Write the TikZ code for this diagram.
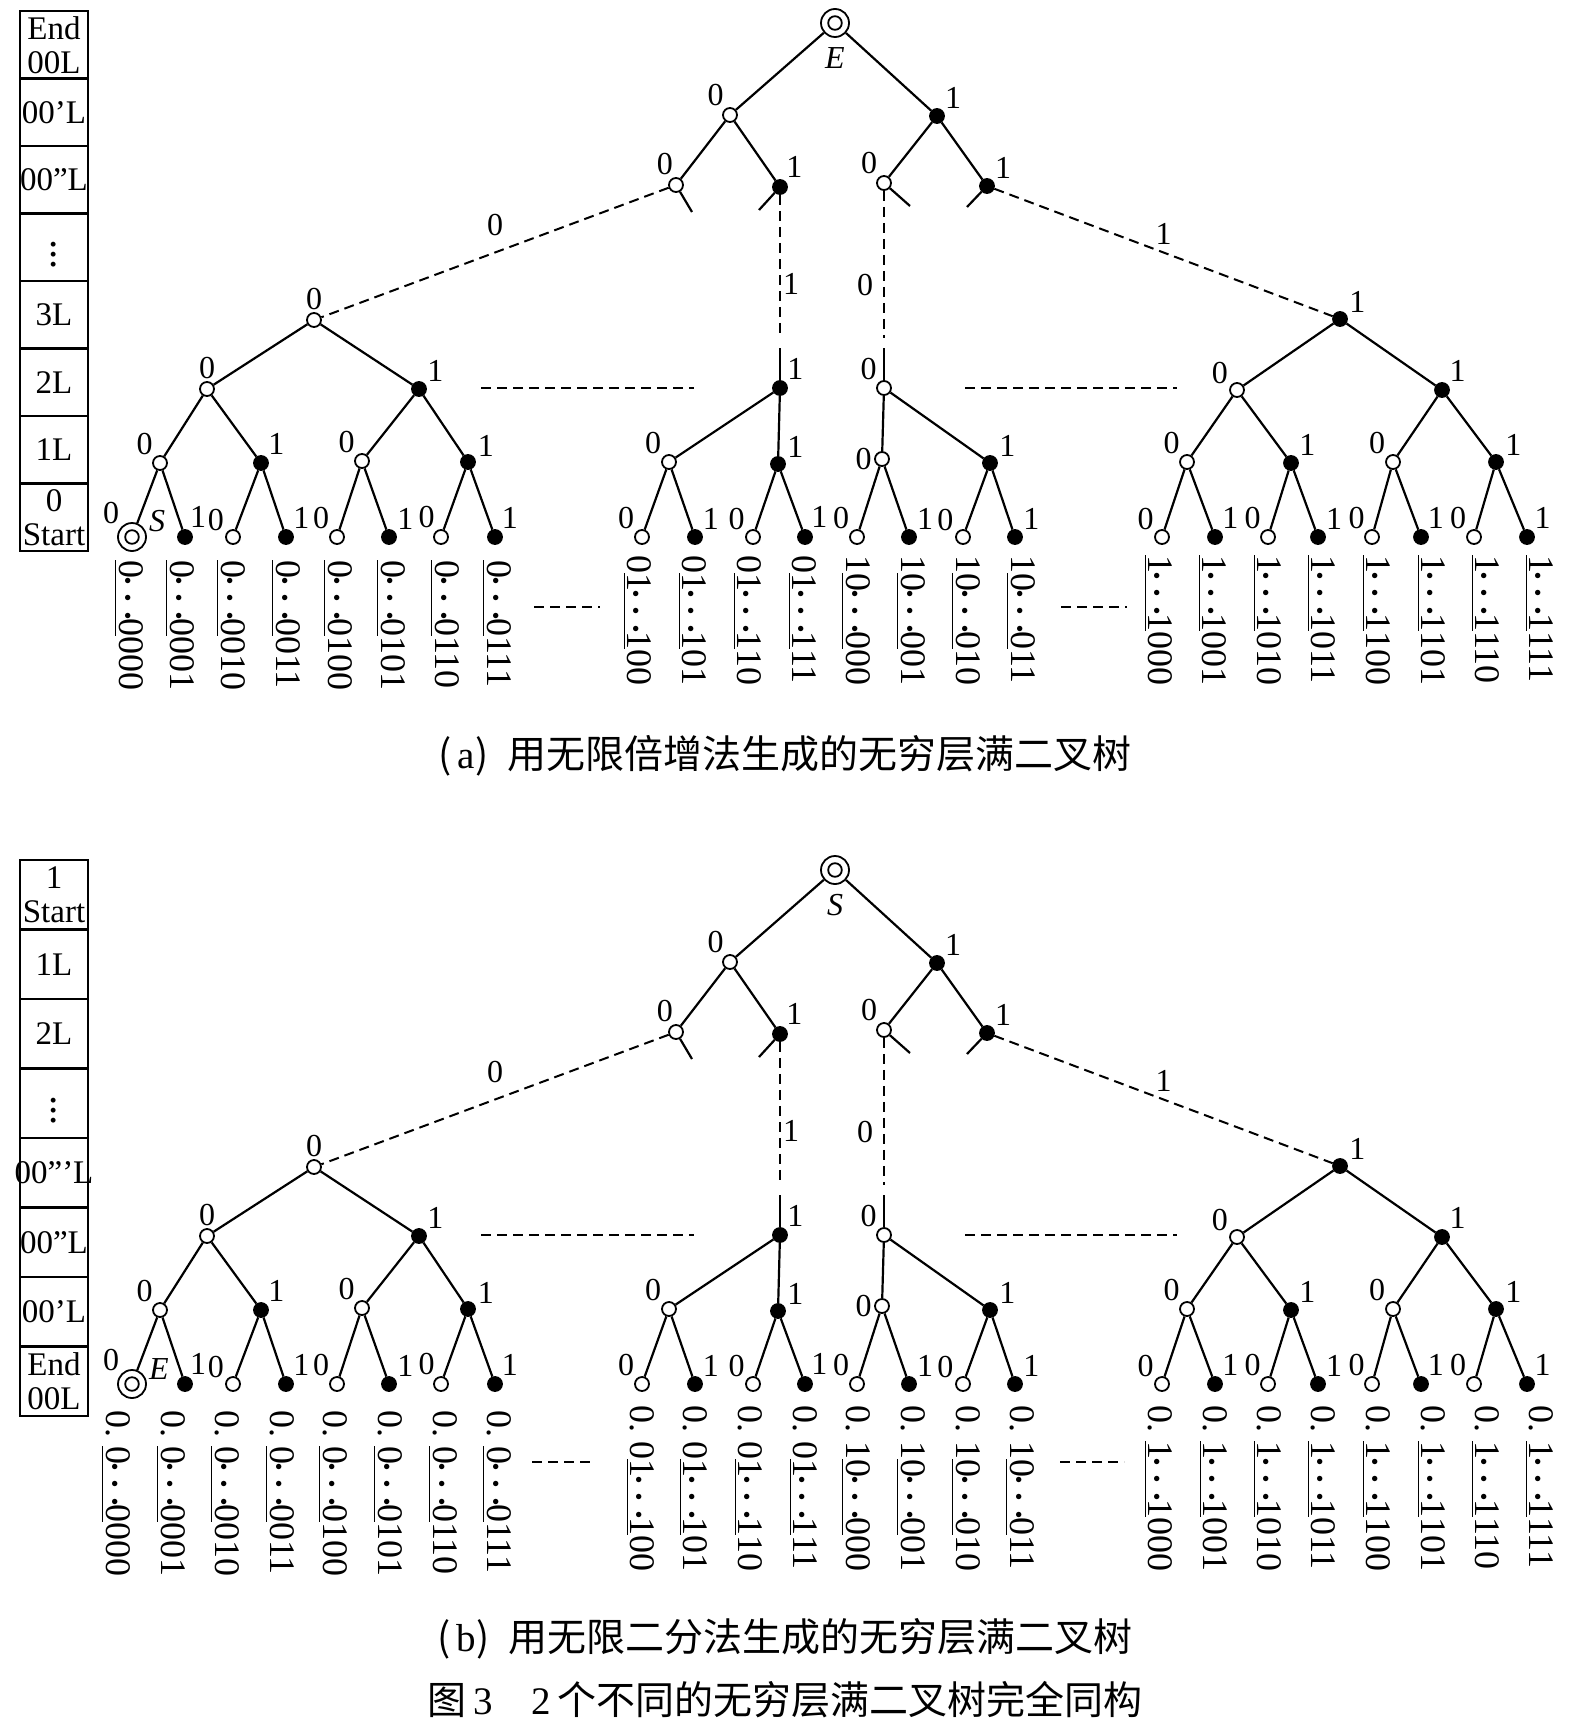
\documentclass[tikz,border=0pt]{standalone}
\usepackage{fontspec}
\setmainfont{Liberation Serif}
\newfontfamily\cjk{Noto Sans CJK SC}
\usetikzlibrary{positioning}

\newcommand{\rep}[1]{\underline{#1}}
\newcommand{\dts}{{\boldmath$\mkern-1.5mu\cdots\mkern-1.5mu$}}
\newcommand{\vdts}{\scalebox{1.25}{$\vdots$}}

\tikzset{
  edge/.style={line width=1.1pt},
  dashedge/.style={line width=1pt, dash pattern=on 5pt off 3pt},
  bit/.style={font=\fontsize{16}{16}\selectfont, inner sep=1pt},
  open/.style={circle, draw, line width=0.9pt, fill=white, inner sep=0pt, minimum size=7pt},
  full/.style={open, fill=black},
  b0/.style={open, label={[bit]#1:0}}, b0/.default=north west,
  b1/.style={full, label={[bit]#1:1}}, b1/.default=north east,
  endpt/.style={circle, draw, line width=0.9pt, fill=white, inner sep=0pt, minimum size=14pt,
    path picture={\draw[line width=0.9pt] (path picture bounding box.center) circle (3.4pt);}},
  cell/.style={draw, line width=1.2pt, minimum width=34pt, inner sep=0pt, align=center,
    font=\fontsize{16.5}{17}\selectfont},
  leafbits/.style={rotate=-90, anchor=base west, inner sep=0pt, font=\fontsize{18}{18}\selectfont},
  caption/.style={font=\cjk\fontsize{19.5}{20}\selectfont, inner sep=0pt}
}

% one full binary tree: #1 prefix, #2 root mark, #3 leaf mark
\newcommand{\halftree}[3]{%
  \node[endpt, label={[bit, label distance=3.5pt]below:\textit{#2}}] (#1r) at (835,23) {};
  \node[b0=120] (#1n0) at (730,115) {};
  \node[b1] (#1n1) at (937,116) {};
  \node[b0=95] (#1n00) at (676,185) {};
  \node[b1=60] (#1n01) at (780,187) {};
  \node[b0=125] (#1n10) at (884,183) {};
  \node[b1=45] (#1n11) at (987,186) {};
  \coordinate (#1s00) at (692,212);
  \coordinate (#1s01) at (759,210);
  \coordinate (#1s10) at (910,206);
  \coordinate (#1s11) at (967,207);
  % left subtree
  \node[b0=90] (#1L) at (314,320) {};
  \node[b0=90] (#1L0) at (207,389) {};
  \node[b1=40] (#1L1) at (419,389) {};
  \node[b0=130] (#1L00) at (160,463) {};
  \node[b1=50] (#1L01) at (261,463) {};
  \node[b0=130] (#1L10) at (362,461) {};
  \node[b1=20] (#1L11) at (468,462) {};
  \node[endpt, label={[bit]north west:0}, label={[bit]10:\textit{#3}}] (#1L000) at (132,537) {};
  \node[b1=70] (#1L001) at (185,537) {};
  \node[b0=150] (#1L010) at (233,537) {};
  \node[b1=50] (#1L011) at (286,537) {};
  \node[b0=135] (#1L100) at (337,537) {};
  \node[b1=40] (#1L101) at (389,537) {};
  \node[b0=120] (#1L110) at (441,537) {};
  \node[b1=55] (#1L111) at (495,537) {};
  % middle subtrees
  \node[b1=50] (#1M) at (780,388) {};
  \node[b0=135] (#1M0) at (669,462) {};
  \node[b1=30] (#1M1) at (778,464) {};
  \node[b0=135] (#1M00) at (642,537) {};
  \node[b1=45] (#1M01) at (695,537) {};
  \node[b0=140] (#1M10) at (753,537) {};
  \node[b1=60] (#1M11) at (805,537) {};
  \node[b0=130] (#1N) at (884,388) {};
  \node[b0=180] (#1N0) at (882,459) {};
  \node[b1=30] (#1N1) at (990,463) {};
  \node[b0=135] (#1N00) at (857,537) {};
  \node[b1=45] (#1N01) at (909,537) {};
  \node[b0=155] (#1N10) at (963,537) {};
  \node[b1=40] (#1N11) at (1015,537) {};
  % right subtree
  \node[b1=30] (#1R) at (1340,319) {};
  \node[b0=150] (#1R0) at (1237,390) {};
  \node[b1=50] (#1R1) at (1442,390) {};
  \node[b0=130] (#1R00) at (1187,462) {};
  \node[b1=40] (#1R01) at (1291,463) {};
  \node[b0=135] (#1R10) at (1393,462) {};
  \node[b1=30] (#1R11) at (1496,462) {};
  \node[b0=140] (#1R000) at (1162,537) {};
  \node[b1=50] (#1R001) at (1215,537) {};
  \node[b0=130] (#1R010) at (1268,537) {};
  \node[b1=45] (#1R011) at (1318,537) {};
  \node[b0=130] (#1R100) at (1372,537) {};
  \node[b1=55] (#1R101) at (1421,537) {};
  \node[b0=135] (#1R110) at (1474,537) {};
  \node[b1=50] (#1R111) at (1527,537) {};
  % solid edges
  \foreach \p/\c in {r/n0, r/n1, n0/n00, n0/n01, n1/n10, n1/n11,
      n00/s00, n01/s01, n10/s10, n11/s11,
      L/L0, L/L1, L0/L00, L0/L01, L1/L10, L1/L11,
      L00/L000, L00/L001, L01/L010, L01/L011, L10/L100, L10/L101, L11/L110, L11/L111,
      M/M0, M/M1, M0/M00, M0/M01, M1/M10, M1/M11,
      N/N0, N/N1, N0/N00, N0/N01, N1/N10, N1/N11,
      R/R0, R/R1, R0/R00, R0/R01, R1/R10, R1/R11,
      R00/R000, R00/R001, R01/R010, R01/R011, R10/R100, R10/R101, R11/R110, R11/R111}
    \draw[edge] (#1\p) -- (#1\c);
  % infinite layers
  \draw[dashedge] (#1n00) -- node[bit, above=7pt]{0} (#1L);
  \draw[dashedge] (#1n11) -- node[bit, above=2.5pt]{1} (#1R);
  \coordinate (#1m) at (780,338);
  \coordinate (#1mm) at (780,348);
  \coordinate (#1k) at (884,338);
  \coordinate (#1kk) at (884,348);
  \draw[dashedge] (#1n01) -- node[bit, right, pos=0.62]{1} (#1m);
  \draw[edge] (#1mm) -- (#1M);
  \draw[dashedge] (#1n10) -- node[bit, left=4pt, pos=0.64]{0} (#1k);
  \draw[edge] (#1kk) -- (#1N);
  \coordinate (#1h1) at (481,388);
  \coordinate (#1h2) at (694,388);
  \coordinate (#1h3) at (965,388);
  \coordinate (#1h4) at (1177,388);
  \draw[dashedge] (#1h1) -- (#1h2);
  \draw[dashedge] (#1h3) -- (#1h4);
}

\begin{document}
\begin{tikzpicture}[x=0.5pt, y=-0.5pt]
\useasboundingbox (0,0) rectangle (1582,1728);
% (a) doubling
\halftree{a}{E}{S}
\foreach \i/\t in {0/{End\\00L}, 1/00’L, 2/{\makebox[0pt]{00”L}}, 3/\vdts, 4/3L, 5/2L, 6/1L, 7/{0\\Start}}
  \node[cell, minimum height=33.75pt] (a-c\i) at (54,{11+67.5*(\i+0.5)}) {\t};
\foreach \x/\s in {131/000, 182/001, 233/010, 288/011, 340/100, 393/101, 447/110, 499/111}
  \node[leafbits] (a-tl\s) at (\x-12,560) {\rep{0\dts0}\s};
\foreach \x/\p/\r/\s in {639/0/1/00, 694/0/1/01, 749/0/1/10, 804/0/1/11,
    858/1/0/00, 913/1/0/01, 968/1/0/10, 1023/1/0/11}
  \node[leafbits] (a-tm\p\s) at (\x-12,555) {\p\rep{\r\dts\r}\s};
\foreach \x/\s in {1160/000, 1214/001, 1269/010, 1323/011, 1378/100, 1433/101, 1487/110, 1541/111}
  \node[leafbits] (a-tr\s) at (\x-12,555) {\rep{1\dts1}\s};
\draw[dashedge] (534,607) -- (600,607);
\draw[dashedge] (1061,607) -- (1127,607);
\node[caption] (a-cap) at (785,756) {(\,{\rmfamily a})\enspace 用无限倍增法生成的无穷层满二叉树};

% (b) bisection
\begin{scope}[shift={(0,847)}]
\halftree{b}{S}{E}
\end{scope}
\foreach \i/\t in {0/{1\\Start}, 1/1L, 2/2L, 3/\vdts, 4/{\makebox[0pt]{00”’L}}, 5/{\makebox[0pt]{00”L}}, 6/00’L, 7/{End\\00L}}
  \node[cell, minimum height=34.75pt] (b-c\i) at (54,{860+69.5*(\i+0.5)}) {\t};
\foreach \x/\s in {118/000, 173/001, 227/010, 282/011, 335/100, 390/101, 445/110, 499/111}
  \node[leafbits] (b-tl\s) at (\x-12,1410) {0.\ \rep{0\dts0}\s};
\foreach \x/\p/\r/\s in {642/0/1/00, 695/0/1/01, 750/0/1/10, 805/0/1/11,
    858/1/0/00, 913/1/0/01, 968/1/0/10, 1022/1/0/11}
  \node[leafbits] (b-tm\p\s) at (\x-12,1405) {0.\ \p\rep{\r\dts\r}\s};
\foreach \x/\s in {1160/000, 1215/001, 1269/010, 1323/011, 1378/100, 1433/101, 1487/110, 1541/111}
  \node[leafbits] (b-tr\s) at (\x-12,1405) {0.\ \rep{1\dts1}\s};
\draw[dashedge] (532,1462) -- (595,1462);
\draw[dashedge] (1060,1462) -- (1124,1462);
\node[caption] (b-cap) at (785,1639) {(\,{\rmfamily b})\enspace 用无限二分法生成的无穷层满二叉树};
\node[caption] (fig-cap) at (785,1700) {图\,{\rmfamily 3}\quad{\rmfamily 2}\,个不同的无穷层满二叉树完全同构};
\end{tikzpicture}
\end{document}
